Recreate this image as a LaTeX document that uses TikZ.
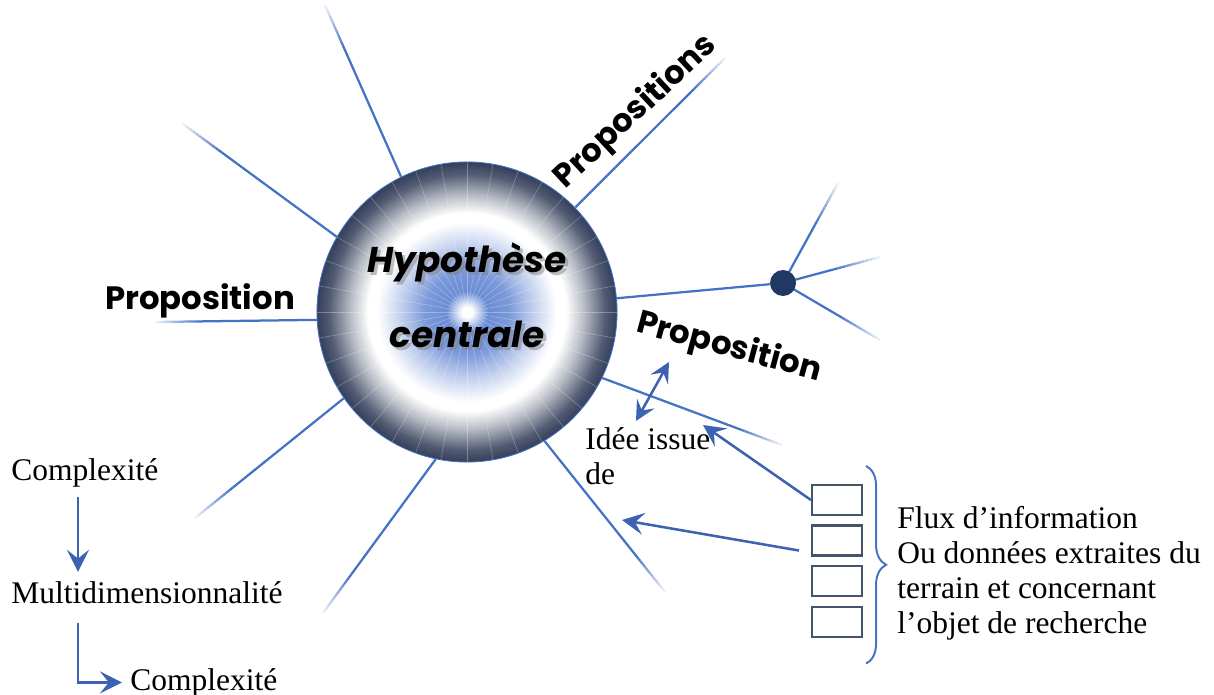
\documentclass[tikz,border=0pt]{standalone}
\usepackage{fontspec}
\setmainfont{Liberation Serif}
\newfontfamily\geofont{Poppins}
\definecolor{spokeblue}{RGB}{68,114,196}
\definecolor{arrowblue}{RGB}{62,98,178}
\definecolor{dotnavy}{RGB}{31,56,100}
\definecolor{boxslate}{RGB}{68,84,106}
\definecolor{hubblue}{RGB}{80,120,205}
\definecolor{hubdark}{RGB}{52,63,90}
\usepackage{tikz}
\usetikzlibrary{arrows.meta, positioning, calc, decorations.pathreplacing}

\pgfdeclareradialshading{hubshade}{\pgfpointorigin}{%
  color(0bp)=(white); color(0.8bp)=(white); color(3.5bp)=(hubblue!85);
  color(7bp)=(hubblue!75); color(11bp)=(hubblue!35); color(15bp)=(white);
  color(16.5bp)=(white); color(19.5bp)=(hubdark!35); color(23bp)=(hubdark!85);
  color(25bp)=(hubdark); color(50bp)=(hubdark)}

\tikzset{
  spoke/.style={spokeblue, line width=1.6pt},
  plain/.style={font=\fontsize{22.4}{25}\selectfont, inner sep=0pt},
  propo/.style={font=\geofont\bfseries\fontsize{23}{26}\selectfont, inner sep=0pt},
  hubtext/.style={font=\geofont\bfseries\itshape\fontsize{25.5}{53}\selectfont, align=center, inner sep=0pt},
  flow/.style={arrowblue, line width=1.8pt, -{Stealth[length=0.55cm, width=0.55cm, inset=0.22cm]}},
  stackbox/.style={draw=boxslate, line width=1.5pt, minimum width=1.25cm, minimum height=0.75cm, inner sep=0pt},
}

% spoke that fades out towards its free end
\newcommand\fadespoke[2]{%
  \draw[spoke] (#1) -- ($(#2)!1.2cm!(#1)$);
  \foreach \k in {0,...,11}{%
    \pgfmathsetmacro\da{1.2-\k*0.1}
    \pgfmathsetmacro\db{1.1-\k*0.1}
    \pgfmathtruncatemacro\pc{100-\k*8}
    \draw[spoke, draw=spokeblue!\pc!white] ($(#2)!\da cm!(#1)$) -- ($(#2)!\db cm!(#1)$);
  }}

\begin{document}
\begin{tikzpicture}[x=0.025cm, y=-0.025cm]
  \useasboundingbox (0,0) rectangle (1214,695);

  % central hypothesis
  \node[circle, minimum size=7.5cm, inner sep=0pt, shade, shading=hubshade,
        draw=spokeblue, line width=.6pt] (hub) at (467,312) {};
  \foreach \a in {0,10,...,350}
    \draw[white, opacity=.3, line width=.4pt] (hub.center) -- (hub.\a);
  \node[hubtext, text=black!50, opacity=.5] (hubshadow) at (470,298) {Hypothèse\\centrale};
  \node[hubtext] (hubtxt) at (467,295) {Hypothèse\\centrale};

  % free ends of the spokes
  \coordinate (e1) at (325,5);
  \coordinate (e2) at (183,124);
  \coordinate (e3) at (155,322);
  \coordinate (e4) at (195,518);
  \coordinate (e5) at (323,613);
  \coordinate (e6) at (665,592);
  \coordinate (e7) at (782,445);
  \coordinate (e9) at (725,58);
  \foreach \a/\e in {116.4/e1,150.3/e2,183.8/e3,215.8/e4,258.2/e5,301.4/e6,334.6/e7,44.2/e9}
    \fadespoke{hub.\a}{\e};

  % branching proposition
  \coordinate (dotc) at (783,283);
  \coordinate (f1) at (838,183);
  \coordinate (f2) at (880,257);
  \coordinate (f3) at (880,340);
  \foreach \f in {f1,f2,f3}
    \fadespoke{dotc}{\f};
  \node[circle, fill=dotnavy, minimum size=0.65cm, inner sep=0pt] (dot) at (dotc) {};
  \draw[spoke] (hub) -- (dot);

  % labels on the spokes
  \node[propo] (pleft) at (200,301) {Proposition};
  \node[propo, rotate=43] (pup) at (636,112) {Propositions};
  \node[propo, rotate=-15] (pright) at (729,348) {Proposition};

  \node[plain, align=left, anchor=north west] (idee) at (585,427) {Idée issue\\de};
  \coordinate (d1) at (636,421);
  \coordinate (d2) at (669,362);
  \draw[flow, {Stealth[length=0.5cm, width=0.5cm, inset=0.2cm]}-{Stealth[length=0.5cm, width=0.5cm, inset=0.2cm]}] (d1) -- (d2);

  % data stack
  \node[stackbox] (b1) at (837,500) {};
  \node[stackbox, below=0.21cm of b1] (b2) {};
  \node[stackbox, below=0.21cm of b2] (b3) {};
  \node[stackbox, below=0.21cm of b3] (b4) {};
  \draw[spokeblue, line width=1.4pt, decorate, decoration={brace, amplitude=0.5cm}]
    ($(b1.north east)+(3,-18)$) -- ($(b4.south east)+(3,26)$);
  \node[plain, align=left, anchor=north west, font=\fontsize{22.4}{24.9}\selectfont]
    (flux) at (897,506) {Flux d’information\\Ou données extraites du\\terrain et concernant\\l’objet de recherche};
  \coordinate (t1) at (703,425);
  \coordinate (t2) at (622,520);
  \draw[flow] (b1.west) -- (t1);
  \draw[flow] ($(b2.west)+(-12,10)$) -- (t2);

  % left column
  \node[plain, anchor=base west] (c1) at (11,480) {Complexité};
  \node[plain, anchor=base west] (m) at (11,603) {Multidimensionnalité};
  \node[plain, anchor=base west] (c2) at (130,690) {Complexité};
  \draw[flow] ($(c1.south west)+(67,10)$) -- ($(m.north west)+(67,-9)$);
  \draw[flow, shorten >=0.2cm] ($(m.south west)+(67,19)$) |- (c2.west);
\end{tikzpicture}
\end{document}
